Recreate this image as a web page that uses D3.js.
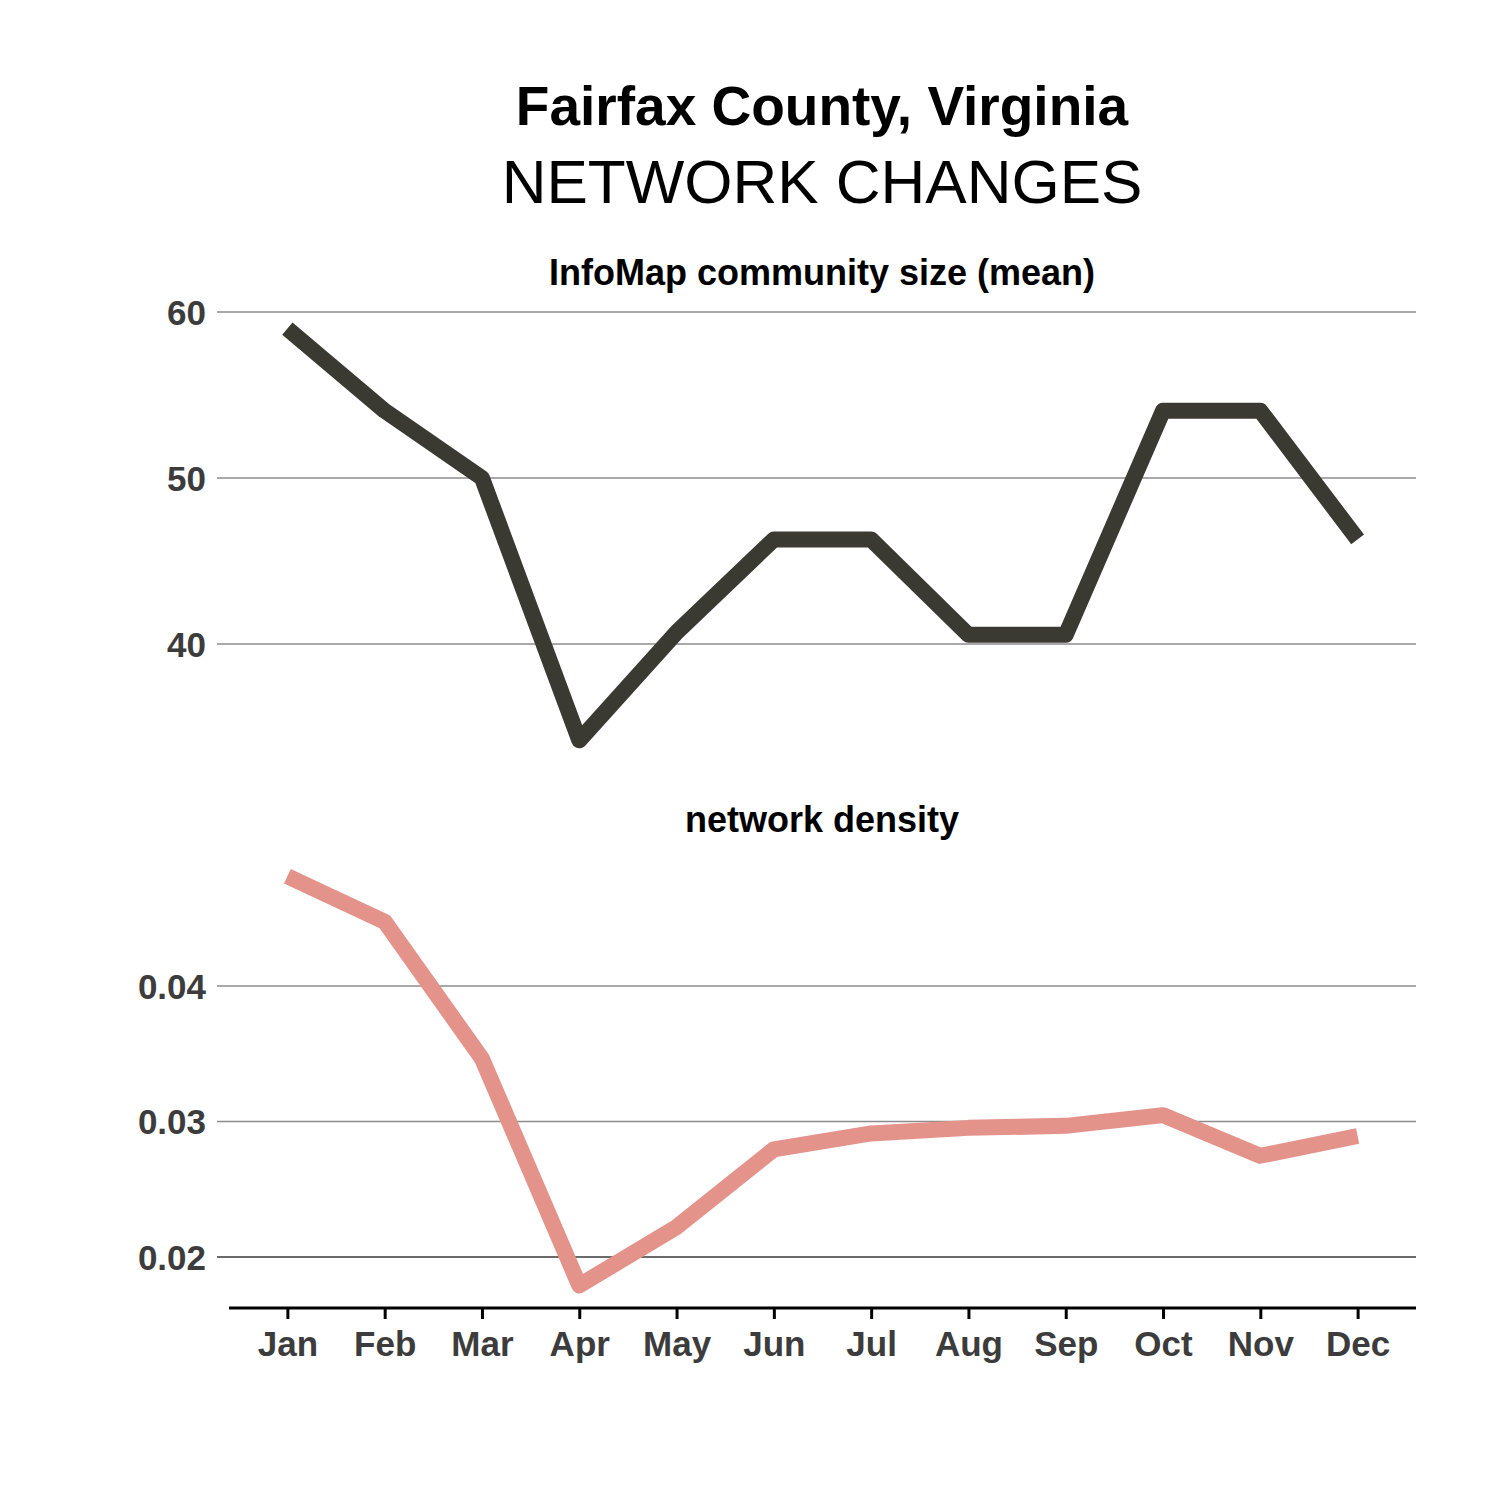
<!DOCTYPE html>
<html>
<head>
<meta charset="utf-8">
<script src="https://cdn.jsdelivr.net/npm/d3@7"></script>
<style>
  html, body { margin: 0; padding: 0; background: #ffffff; }
  svg { display: block; font-family: "Liberation Sans", Arial, sans-serif; }
</style>
</head>
<body>
<svg id="chart" width="1500" height="1500"></svg>
<script>
// ---- data ----
const months = ["Jan","Feb","Mar","Apr","May","Jun","Jul","Aug","Sep","Oct","Nov","Dec"];
const communitySize = [59.0, 54.05, 50.0, 34.2, 40.7, 46.3, 46.3, 40.55, 40.55, 54.05, 54.05, 46.3];
const density = [0.0481, 0.04475, 0.03464, 0.0179, 0.02221, 0.02795, 0.02912, 0.02953, 0.02968, 0.03047, 0.02747, 0.02893];
const sizeTicks = [40, 50, 60];
const densityTicks = [0.02, 0.03, 0.04];
const titleLine1 = "Fairfax County, Virginia";
const titleLine2 = "NETWORK CHANGES";
const panelTitles = ["InfoMap community size (mean)", "network density"];

// ---- layout ----
const svg = d3.select("#chart");
const panelLeft = 229, panelRight = 1416, gridLeft = 217;
const cx = 822;

const x = d3.scalePoint().domain(months).range([panelLeft, panelRight]).padding(0.6);
const yTop = d3.scaleLinear().domain([40, 60]).range([644, 312]);
const yBot = d3.scaleLinear().domain([0.02, 0.04]).range([1257, 986]);

// titles
svg.append("text").attr("x", cx).attr("y", 125).attr("text-anchor", "middle")
  .attr("font-size", 55).attr("font-weight", "bold").attr("fill", "#000").text(titleLine1);
svg.append("text").attr("x", cx).attr("y", 203).attr("text-anchor", "middle")
  .attr("font-size", 62).attr("fill", "#000").text(titleLine2);

function drawPanel(y, ticks, values, color, title, titleY, fmt, darkTick) {
  const g = svg.append("g");
  g.append("text").attr("x", cx).attr("y", titleY).attr("text-anchor", "middle")
    .attr("font-size", 36).attr("font-weight", "bold").attr("fill", "#000").text(title);
  // gridlines
  g.selectAll("line.grid").data(ticks).join("line")
    .attr("x1", gridLeft).attr("x2", panelRight)
    .attr("y1", d => y(d)).attr("y2", d => y(d))
    .attr("stroke", d => d === darkTick ? "#3a3a3a" : "#8c8c8c")
    .attr("stroke-width", d => d === darkTick ? 1.3 : 1.6);
  // tick labels
  g.selectAll("text.tick").data(ticks).join("text")
    .attr("x", 206).attr("y", d => y(d)).attr("dy", "0.36em")
    .attr("text-anchor", "end").attr("font-size", 35).attr("font-weight", "bold")
    .attr("fill", "#3c3c3c").text(fmt);
  // line
  const line = d3.line().x((d, i) => x(months[i])).y(d => y(d));
  g.append("path").datum(values).attr("d", line)
    .attr("fill", "none").attr("stroke", color).attr("stroke-width", 16)
    .attr("stroke-linejoin", "round").attr("stroke-linecap", "butt");
}

drawPanel(yTop, sizeTicks, communitySize, "#3b3a32", panelTitles[0], 285, d => d3.format("d")(d), null);
drawPanel(yBot, densityTicks, density, "#e4938a", panelTitles[1], 832, d => d3.format(".2f")(d), 0.02);

// x axis
const axisY = 1308;
const xAxis = d3.axisBottom(x).tickSize(11).tickPadding(12);
const ag = svg.append("g").attr("transform", `translate(0,${axisY})`).call(xAxis);
ag.select(".domain").attr("d", `M${panelLeft},0H${panelRight}`).attr("stroke", "#000").attr("stroke-width", 3);
ag.selectAll(".tick line").attr("stroke", "#000").attr("stroke-width", 3);
ag.selectAll(".tick text").attr("font-size", 35).attr("font-weight", "bold")
  .attr("fill", "#3c3c3c").attr("font-family", "Liberation Sans, Arial, sans-serif");
</script>
</body>
</html>
